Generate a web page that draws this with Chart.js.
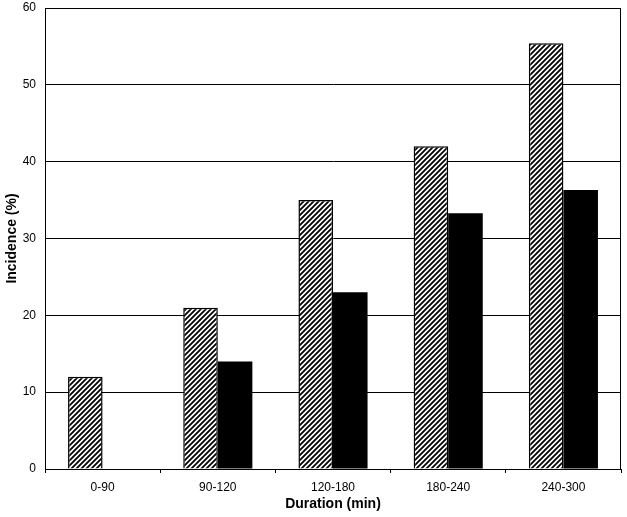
<!DOCTYPE html>
<html>
<head>
<meta charset="utf-8">
<script src="https://cdn.jsdelivr.net/npm/chart.js@4"></script>
<style>
  html, body { margin: 0; padding: 0; background: #fff; }
  #wrap { width: 627px; height: 517px; }
</style>
</head>
<body>
<div id="wrap"><canvas id="chart" width="627" height="517"></canvas></div>
<script>
// data
const categories = ['0-90', '90-120', '120-180', '180-240', '240-300'];
const hatchedValues = [12, 21, 35, 42, 55.4];
const solidValues = [0, 14, 23, 33.3, 36.3];
const yMin = 0, yMax = 60, yStep = 10;

// diagonal stripes for the first series
function makeHatch() {
    const c = document.createElement('canvas');
    c.width = 5; c.height = 5;
    const g = c.getContext('2d');
    g.fillStyle = '#fff';
    g.fillRect(0, 0, 5, 5);
    g.strokeStyle = '#000';
    g.lineWidth = 1.8;
    g.beginPath();
    g.moveTo(-1, 6); g.lineTo(6, -1);
    g.moveTo(-1, 1); g.lineTo(1, -1);
    g.moveTo(4, 6); g.lineTo(6, 4);
    g.stroke();
    return g.createPattern(c, 'repeat');
}

// frame round the plot area
const frame = {
    id: 'frame',
    afterDraw(chart) {
        const a = chart.chartArea, ctx = chart.ctx;
        ctx.save();
        ctx.strokeStyle = '#000';
        ctx.lineWidth = 1;
        ctx.strokeRect(a.left + 0.5, a.top + 0.5, a.right - a.left - 1, a.bottom - a.top);
        ctx.restore();
    }
};

const ctx = document.getElementById('chart').getContext('2d');
const chart = new Chart(ctx, {
    type: 'bar',
    data: {
        labels: categories,
        datasets: [
            {
                data: hatchedValues,
                backgroundColor: makeHatch(),
                borderColor: '#000',
                borderWidth: 1.5,
                borderSkipped: 'bottom'
            },
            {
                data: solidValues,
                backgroundColor: '#000',
                borderWidth: 0
            }
        ]
    },
    options: {
        responsive: false,
        animation: false,
        layout: { padding: { top: 0, right: 6, left: 0, bottom: 0 } },
        plugins: { legend: { display: false }, tooltip: { enabled: false } },
        datasets: { bar: { barPercentage: 1, categoryPercentage: 0.6 } },
        scales: {
            x: {
                grid: { offset: true, drawOnChartArea: false, drawTicks: true, tickLength: 4, color: '#000' },
                border: { color: '#000' },
                ticks: { color: '#000', font: { family: 'Liberation Sans', size: 12 }, padding: 7 },
                title: { display: true, text: 'Duration (min)', color: '#000', font: { family: 'Liberation Sans', size: 14, weight: 'bold' }, padding: { top: 2 } },
                afterFit(s) { s.height = 48; }
            },
            y: {
                min: yMin, max: yMax,
                grid: { color: '#000', drawTicks: false },
                border: { color: '#000' },
                ticks: { stepSize: yStep, color: '#000', font: { family: 'Liberation Sans', size: 12 }, padding: 9 },
                title: { display: true, text: 'Incidence (%)', color: '#000', font: { family: 'Liberation Sans', size: 14, weight: 'bold' }, padding: { top: 4, bottom: 0 } },
                afterFit(s) { s.width = 45; s.paddingTop = 8; s.paddingBottom = 8; }
            }
        }
    },
    plugins: [frame]
});
</script>
</body>
</html>
